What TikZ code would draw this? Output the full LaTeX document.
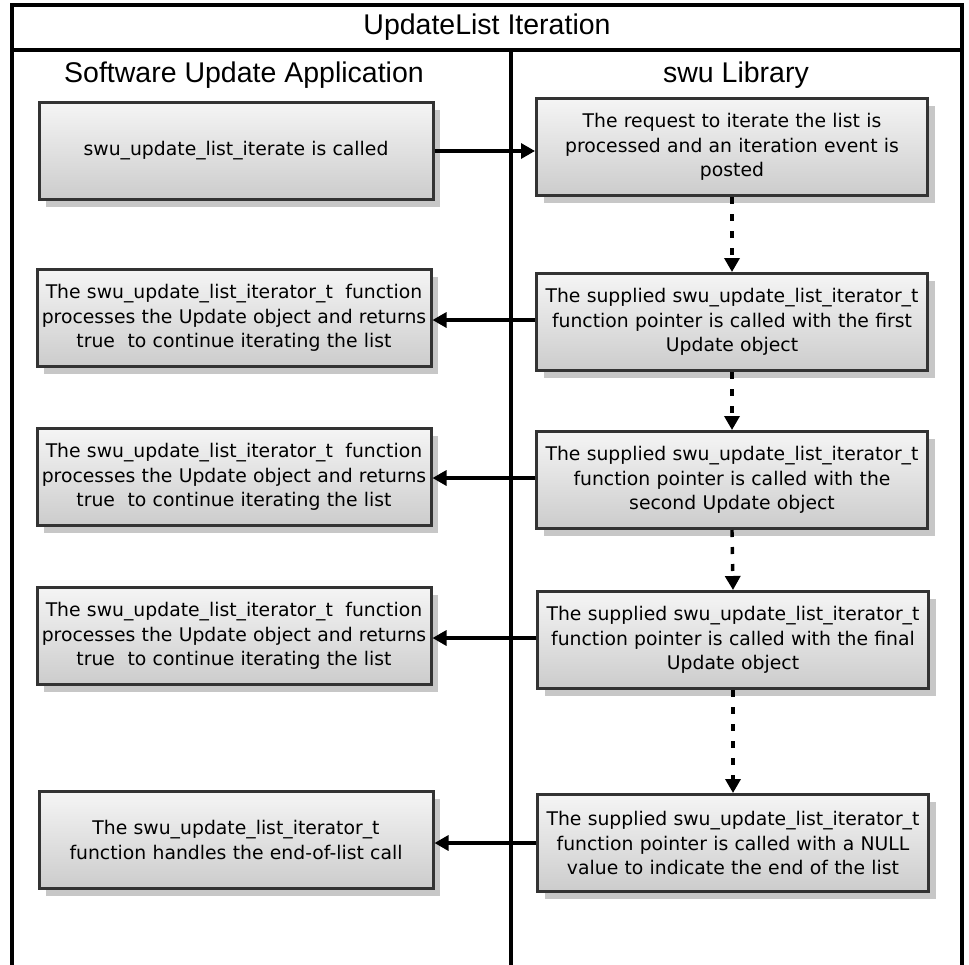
\documentclass[tikz,border=0pt]{standalone}
\usepackage{fontspec}
\setmainfont{DejaVu Sans}
\newfontfamily\titlefont{Liberation Sans}
\usetikzlibrary{shadows,arrows.meta}

\tikzset{
  frame/.style={line width=3.2pt, line cap=rect},
  stepbox/.style={draw=black!80, line width=3pt,
    top color=white!96!black, bottom color=black!20,
    minimum height=97pt, inner sep=0pt, align=center,
    font=\fontsize{18.8}{24.5}\selectfont,
    drop shadow={shadow xshift=7pt, shadow yshift=-7pt, fill=black!22, opacity=1}},
  lbox/.style={stepbox, minimum width=394pt, text width=390pt},
  rbox/.style={stepbox, minimum width=391pt, text width=388pt},
  call/.style={line width=3.2pt, -{Triangle[length=14pt,width=15pt]}},
  flow/.style={line width=3.4pt, dash pattern=on 7pt off 10pt,
    -{Triangle[length=14pt,width=15pt]}},
  lanetitle/.style={font=\titlefont\fontsize{28.5}{32}\selectfont, inner sep=0pt},
}

\begin{document}
\begin{tikzpicture}[x=1pt,y=-1pt]
\useasboundingbox (0,0) rectangle (969,964);
\fill[white] (0,0) rectangle (969,964);

% pool frame, title band and lane divider
\draw[frame] (12,964) -- (12,5) -- (962,5) -- (962,964);
\draw[frame] (12,50) -- (962,50);
\draw[frame] (511,50) -- (511,964);

\node[lanetitle] (pool) at (487,27) {UpdateList Iteration};
\node[lanetitle] (lanea) at (244,75) {Software Update Application};
\node[lanetitle] (laneb) at (736,75) {swu Library};

% application lane
\node[lbox] (a1) at (236,151) {swu\_update\_list\_iterate is called};
\node[lbox] (a2) at (234,318) {The swu\_update\_list\_iterator\_t\ \ function\\processes the Update object and returns\\true\ \ to continue iterating the list};
\node[lbox] (a3) at (234,477) {The swu\_update\_list\_iterator\_t\ \ function\\processes the Update object and returns\\true\ \ to continue iterating the list};
\node[lbox] (a4) at (234,636) {The swu\_update\_list\_iterator\_t\ \ function\\processes the Update object and returns\\true\ \ to continue iterating the list};
\node[lbox] (a5) at (236,840) {The swu\_update\_list\_iterator\_t\\function handles the end-of-list call};

% library lane
\node[rbox] (b1) at (732,147) {The request to iterate the list is\\processed and an iteration event is\\posted};
\node[rbox] (b2) at (732,322) {The supplied swu\_update\_list\_iterator\_t\\function pointer is called with the first\\Update object};
\node[rbox] (b3) at (732,480) {The supplied swu\_update\_list\_iterator\_t\\function pointer is called with the\\second Update object};
\node[rbox] (b4) at (733,640) {The supplied swu\_update\_list\_iterator\_t\\function pointer is called with the final\\Update object};
\node[rbox] (b5) at (733,843) {The supplied swu\_update\_list\_iterator\_t\\function pointer is called with a NULL\\value to indicate the end of the list};

% calls across the lanes
\draw[call] (a1.east) -- (a1.east -| b1.west);
\draw[call] (b2.west |- 0,320) -- (a2.east |- 0,320);
\draw[call] (b3.west |- 0,478) -- (a3.east |- 0,478);
\draw[call] (b4.west |- 0,638) -- (a4.east |- 0,638);
\draw[call] (b5.west |- 0,843) -- (a5.east |- 0,843);

% sequence inside the library
\draw[flow] (b1.south) -- (b2.north);
\draw[flow] (b2.south) -- (b3.north);
\draw[flow] (b3.south) -- (b4.north);
\draw[flow] (b4.south) -- (b5.north);
\end{tikzpicture}
\end{document}
